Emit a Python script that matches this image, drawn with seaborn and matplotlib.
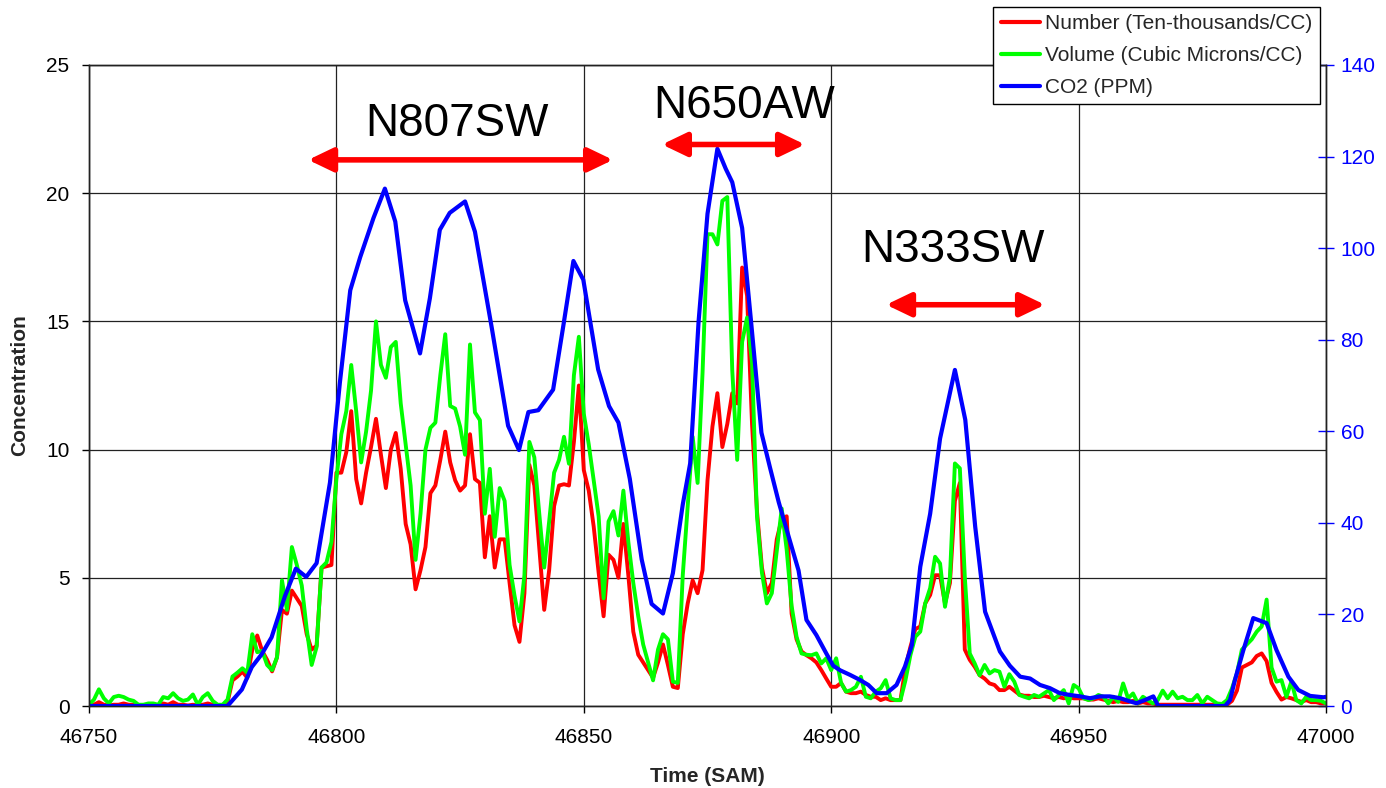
import numpy as np
import pandas as pd
import matplotlib
matplotlib.use("Agg")
import matplotlib.pyplot as plt
import seaborn as sns
from matplotlib.lines import Line2D

# ---------------- data ----------------
T_START, T_END = 46750, 47000            # 1-second samples for particle data

NUMBER = [  # Number (Ten-thousands/CC), 46750 .. 47000
    0.02, 0.05, 0.15, 0.05, 0.02, 0.05, 0.05, 0.10, 0.05, 0.05,   # 46750
    0.02, 0.02, 0.05, 0.05, 0.02, 0.10, 0.05, 0.15, 0.05, 0.05,   # 46760
    0.02, 0.05, 0.02, 0.05, 0.10, 0.05, 0.02, 0.02, 0.15, 1.00,   # 46770
    1.15, 1.34, 1.10, 2.20, 2.75, 2.15, 1.80, 1.35, 1.90, 3.75,   # 46780
    3.60, 4.50, 4.20, 3.90, 2.80, 2.20, 2.35, 5.40, 5.45, 5.50,   # 46790
    9.10, 9.10, 9.90, 11.5, 8.85, 7.90, 9.10, 10.1, 11.2, 9.80,   # 46800
    8.50, 10.0, 10.65, 9.25, 7.10, 6.30, 4.55, 5.30, 6.20, 8.30,  # 46810
    8.60, 9.60, 10.7, 9.50, 8.80, 8.40, 8.60, 10.6, 8.85, 8.70,   # 46820
    5.80, 7.40, 5.40, 6.50, 6.50, 4.80, 3.15, 2.50, 4.40, 9.40,   # 46830
    8.60, 6.20, 3.75, 5.30, 7.80, 8.60, 8.65, 8.60, 10.3, 12.5,   # 46840
    9.20, 8.40, 7.00, 5.20, 3.50, 5.90, 5.70, 5.00, 7.10, 5.10,   # 46850
    2.90, 2.00, 1.70, 1.40, 1.10, 1.70, 2.40, 1.60, 0.75, 0.70,   # 46860
    2.80, 4.00, 4.90, 4.40, 5.30, 8.80, 10.9, 12.2, 10.1, 11.0,   # 46870
    12.2, 11.8, 17.1, 16.0, 11.0, 7.60, 5.40, 4.40, 4.80, 6.50,   # 46880
    7.30, 7.40, 3.60, 2.60, 2.13, 1.98, 1.86, 1.70, 1.40, 1.07,   # 46890
    0.75, 0.75, 0.90, 0.56, 0.50, 0.50, 0.56, 0.43, 0.36, 0.36,   # 46900
    0.23, 0.30, 0.23, 0.23, 0.23, 1.50, 2.30, 3.00, 3.10, 4.00,   # 46910
    4.33, 5.10, 5.10, 4.00, 4.80, 8.00, 8.70, 2.20, 1.80, 1.53,   # 46920
    1.20, 1.07, 0.88, 0.82, 0.62, 0.62, 0.75, 0.60, 0.45, 0.40,   # 46930
    0.40, 0.35, 0.35, 0.40, 0.35, 0.30, 0.35, 0.30, 0.35, 0.30,   # 46940
    0.30, 0.30, 0.25, 0.25, 0.30, 0.25, 0.20, 0.15, 0.20, 0.15,   # 46950
    0.15, 0.20, 0.10, 0.15, 0.10, 0.10, 0.05, 0.05, 0.05, 0.05,   # 46960
    0.05, 0.05, 0.05, 0.05, 0.05, 0.05, 0.05, 0.05, 0.05, 0.05,   # 46970
    0.05, 0.20, 0.60, 1.50, 1.60, 1.70, 1.95, 2.05, 1.75, 0.90,   # 46980
    0.55, 0.25, 0.35, 0.30, 0.23, 0.16, 0.23, 0.15, 0.15, 0.10,   # 46990
    0.10,                                                         # 47000
]

VOLUME = [  # Volume (Cubic Microns/CC), 46750 .. 47000
    0.05, 0.25, 0.65, 0.30, 0.10, 0.35, 0.40, 0.35, 0.25, 0.20,   # 46750
    0.05, 0.05, 0.10, 0.10, 0.05, 0.35, 0.30, 0.50, 0.30, 0.20,   # 46760
    0.25, 0.45, 0.05, 0.35, 0.50, 0.20, 0.05, 0.05, 0.25, 1.15,   # 46770
    1.30, 1.47, 1.30, 2.80, 2.10, 2.15, 1.60, 1.40, 1.90, 4.90,   # 46780
    3.75, 6.20, 5.50, 4.70, 3.00, 1.60, 2.30, 5.40, 5.60, 6.40,   # 46790
    8.85, 10.6, 11.5, 13.3, 11.5, 9.50, 10.7, 12.3, 15.0, 13.3,   # 46800
    12.8, 14.0, 14.2, 11.8, 10.2, 8.60, 5.70, 7.50, 10.0, 10.85,  # 46810
    11.05, 12.9, 14.5, 11.7, 11.6, 10.9, 9.80, 14.1, 11.45, 11.15,  # 46820
    7.50, 9.25, 6.60, 8.50, 8.00, 5.50, 4.30, 3.30, 5.10, 10.3,   # 46830
    9.70, 7.50, 5.40, 7.20, 9.10, 9.60, 10.5, 9.45, 12.9, 14.4,   # 46840
    11.4, 10.2, 8.80, 7.40, 4.20, 7.20, 7.60, 6.65, 8.40, 6.40,   # 46850
    4.80, 3.50, 2.40, 1.70, 1.00, 2.20, 2.80, 2.60, 0.95, 0.90,   # 46860
    5.10, 7.80, 10.5, 8.70, 13.0, 18.4, 18.4, 18.0, 19.7, 19.85,  # 46870
    13.1, 9.60, 14.2, 15.15, 13.4, 7.40, 5.20, 4.00, 4.40, 6.05,  # 46880
    7.70, 6.10, 3.90, 2.70, 2.05, 2.00, 1.98, 2.05, 1.66, 1.86,   # 46890
    1.40, 1.86, 0.90, 0.56, 0.62, 0.75, 1.14, 0.36, 0.30, 0.56,   # 46900
    0.69, 1.01, 0.30, 0.23, 0.23, 1.00, 1.98, 2.70, 2.90, 4.00,   # 46910
    4.60, 5.82, 5.56, 3.87, 5.04, 9.46, 9.27, 5.04, 2.05, 1.66,   # 46920
    1.20, 1.60, 1.27, 1.40, 1.34, 0.75, 1.24, 0.95, 0.43, 0.36,   # 46930
    0.30, 0.43, 0.36, 0.49, 0.62, 0.23, 0.43, 0.62, 0.10, 0.82,   # 46940
    0.69, 0.30, 0.23, 0.30, 0.43, 0.36, 0.10, 0.36, 0.16, 0.88,   # 46950
    0.30, 0.49, 0.10, 0.36, 0.23, 0.10, 0.23, 0.60, 0.30, 0.56,   # 46960
    0.30, 0.36, 0.23, 0.23, 0.43, 0.10, 0.36, 0.23, 0.10, 0.08,   # 46970
    0.23, 0.69, 1.27, 2.20, 2.40, 2.60, 2.90, 3.10, 4.15, 1.50,   # 46980
    0.95, 1.01, 0.36, 0.95, 0.23, 0.10, 0.36, 0.23, 0.23, 0.20,   # 46990
    0.10,                                                         # 47000
]

CO2_TIME = [
    46750, 46778, 46780.9, 46782.9, 46784.9, 46786.9, 46789.6, 46791.8, 46793.9, 46796.0,
    46798.7, 46800.7, 46802.8, 46804.8, 46807.5, 46809.8, 46811.9, 46813.9, 46816.9, 46818.9,
    46820.9, 46822.9, 46826.0, 46828.0, 46831.4, 46834.7, 46836.9, 46838.8, 46840.8, 46843.8,
    46845.9, 46847.9, 46849.9, 46852.9, 46855.1, 46857.0, 46859.3, 46861.7, 46863.7, 46866.0,
    46868.0, 46870.0, 46871.5, 46873.2, 46875.0, 46877.0, 46878.7, 46880.0, 46882.0, 46883.8,
    46885.9, 46887.6, 46889.4, 46891.4, 46893.4, 46895.0, 46897.0, 46899.0, 46900.4, 46901.8,
    46903.8, 46905.8, 46907.5, 46909.2, 46911.2, 46913.2, 46914.9, 46916.3, 46918.0, 46920.0,
    46922.0, 46925.0, 46927.1, 46929.1, 46931.1, 46934.1, 46936.1, 46938.2, 46940.2, 46942.2,
    46944.2, 46946.2, 46948.3, 46950.3, 46952.3, 46954.3, 46956.3, 46958.4, 46960.4, 46961.7,
    46963.4, 46965.1, 46966.1, 46979.6, 46980.6, 46981.6, 46983.3, 46985.3, 46988.0, 46990.0,
    46992.4, 46994.4, 46996.8, 46999.5, 47000,
]
CO2_PPM = [
    0.0, 0.0, 3.6, 8.5, 11.3, 15.0, 24.0, 30.0, 28.2, 31.2,
    48.8, 70.6, 90.8, 98.0, 106.6, 113.0, 105.8, 88.6, 77.0, 89.1,
    104.0, 107.7, 110.2, 103.6, 82.6, 61.2, 55.9, 64.2, 64.6, 69.1,
    83.3, 97.2, 93.1, 73.5, 65.5, 61.9, 49.6, 32.0, 22.3, 20.2,
    29.0, 44.0, 53.0, 84.0, 107.5, 121.7, 117.3, 114.4, 104.4, 84.0,
    59.7, 52.2, 44.5, 37.0, 29.6, 18.8, 15.5, 11.5, 8.8, 7.8,
    6.8, 5.7, 4.6, 2.8, 2.8, 4.6, 8.6, 13.3, 30.4, 42.0,
    58.4, 73.4, 62.5, 39.2, 20.6, 11.9, 8.8, 6.4, 6.0, 4.6,
    3.9, 2.8, 2.4, 2.1, 1.7, 2.1, 2.1, 1.7, 1.0, 0.6,
    1.3, 2.1, 0.0, 0.0, 1.3, 5.7, 12.2, 19.2, 18.1, 12.2,
    6.4, 3.5, 2.2, 1.9, 2.0,
]

SERIES_LABELS = ["Number (Ten-thousands/CC)", "Volume (Cubic Microns/CC)", "CO2 (PPM)"]
SERIES_COLORS = ["#FF0000", "#00FF00", "#0000FF"]

# aircraft annotations: label, arrow start/end (time), arrow level, text position
AIRCRAFT = ["N807SW", "N650AW", "N333SW"]
ARROW_T0 = [46794.3, 46865.8, 46911.1]
ARROW_T1 = [46855.9, 46894.7, 46943.2]
ARROW_Y = [21.3, 21.9, 15.65]
TEXT_T = [46824.4, 46882.4, 46924.6]
TEXT_Y = [22.7, 23.4, 17.8]

# ---------------- plotting ----------------
sns.set_theme(style="white")
plt.rcParams["font.family"] = ["Liberation Sans", "DejaVu Sans"]

fig = plt.figure(figsize=(13.86, 7.88), dpi=100)
ax = fig.add_axes([89 / 1386, 1 - 706 / 788, (1326 - 89) / 1386, (706 - 65) / 788])
ax2 = ax.twinx()

t = np.arange(T_START, T_END + 1)
df = pd.DataFrame({"t": t, "number": NUMBER, "volume": VOLUME})
co2 = pd.DataFrame({"t": CO2_TIME, "ppm": CO2_PPM})

sns.lineplot(data=df, x="t", y="number", ax=ax, color=SERIES_COLORS[0], lw=2.8, legend=False)
sns.lineplot(data=df, x="t", y="volume", ax=ax, color=SERIES_COLORS[1], lw=2.8, legend=False)
sns.lineplot(data=co2, x="t", y="ppm", ax=ax2, color=SERIES_COLORS[2], lw=3.0, legend=False)

ax.set_xlim(T_START, T_END)
ax.set_ylim(0, 25)
ax2.set_ylim(0, 140)
ax.set_xticks(np.arange(46750, 47001, 50))
ax.set_yticks(np.arange(0, 26, 5))
ax2.set_yticks(np.arange(0, 141, 20))

ax.grid(True, color="#222222", lw=0.9)
ax2.grid(False)
for a in (ax, ax2):
    for s in a.spines.values():
        s.set_color("#222222")
        s.set_linewidth(1.0)

ax.tick_params(axis="x", which="major", labelsize=15, colors="black",
               direction="out", length=5, width=1, pad=11, bottom=True)
ax.tick_params(axis="y", which="major", labelsize=15, colors="black",
               direction="out", length=5, width=1, pad=9, left=True)
ax2.tick_params(axis="y", labelsize=15, colors="#0000FF", labelcolor="#0000FF",
                direction="inout", length=11, width=1, pad=5, right=True)

ax.set_xlabel("Time (SAM)", fontsize=15, fontweight="bold", labelpad=14)
ax.set_ylabel("Concentration", fontsize=15, fontweight="bold", labelpad=12)
ax2.set_ylabel("")

# aircraft arrows and labels (data coordinates of the left axis)
for name, x0, x1, ya, xt, yt in zip(AIRCRAFT, ARROW_T0, ARROW_T1, ARROW_Y, TEXT_T, TEXT_Y):
    y2 = ya * 140 / 25
    ax2.annotate("", xy=(x1, y2), xytext=(x0, y2),
                 arrowprops=dict(arrowstyle="<|-|>,head_length=0.75,head_width=0.36",
                                 color="#FF0000", lw=4, mutation_scale=20,
                                 shrinkA=0, shrinkB=0), zorder=5)
    ax2.text(xt, yt * 140 / 25, name, fontsize=33, ha="center", va="center",
             color="black", zorder=6)

handles = [Line2D([0], [0], color=c, lw=3) for c in SERIES_COLORS]
leg = fig.legend(handles, SERIES_LABELS, loc="upper right",
                 bbox_to_anchor=(1320 / 1386, 1 - 7 / 788), bbox_transform=fig.transFigure,
                 fontsize=15, frameon=True, fancybox=False, shadow=False,
                 handlelength=1.9, handletextpad=0.25, labelspacing=0.62,
                 borderpad=0.35, borderaxespad=0)
leg.get_frame().set_edgecolor("black")
leg.get_frame().set_linewidth(1.0)
leg.get_frame().set_facecolor("white")
leg.get_frame().set_alpha(1)

fig.savefig("out.png", dpi=100)
